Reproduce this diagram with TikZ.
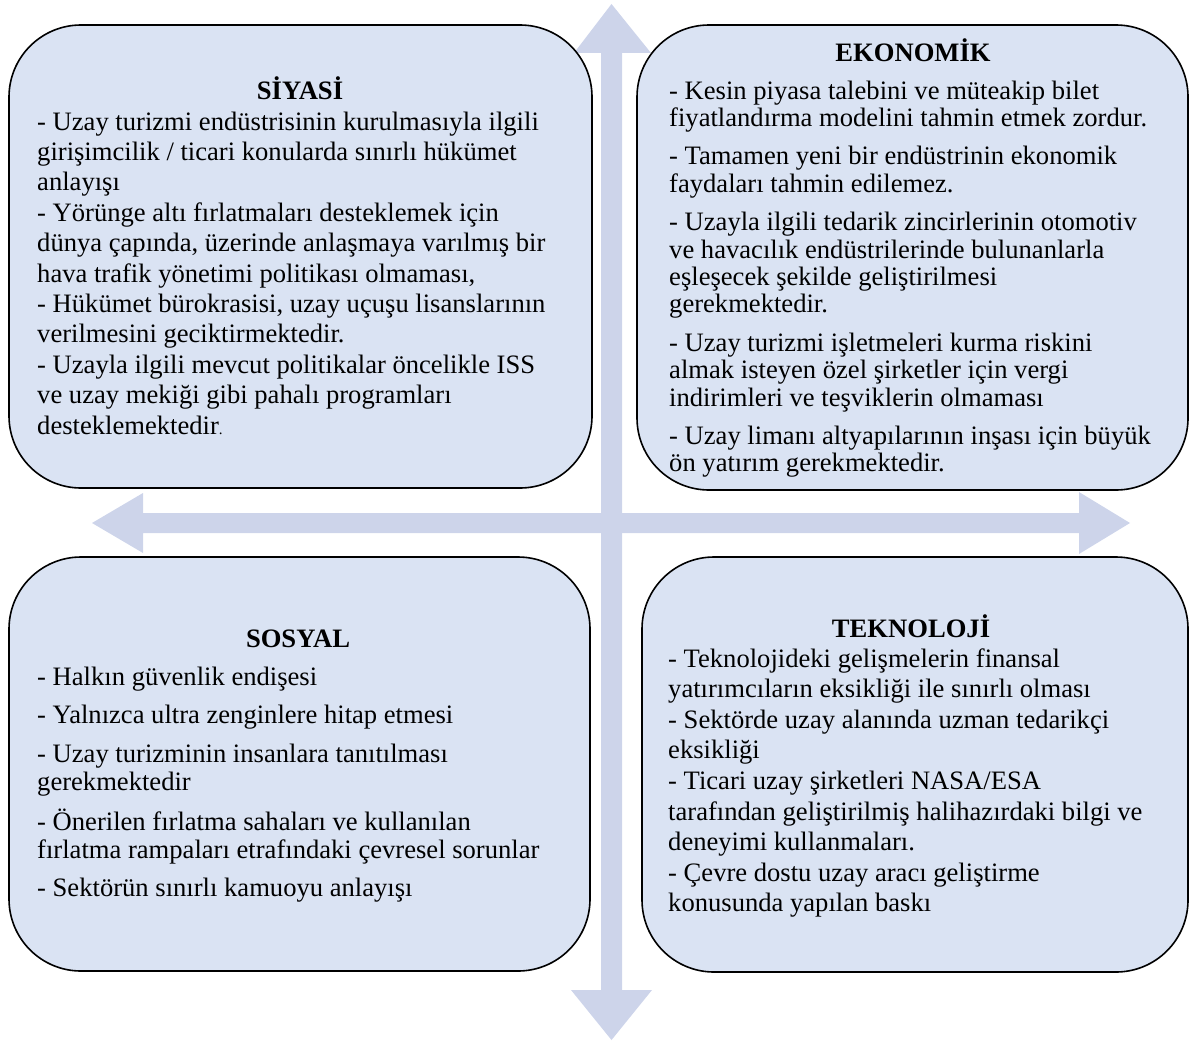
\documentclass[tikz,border=0pt]{standalone}
\usepackage{fontspec}
\setmainfont{Liberation Serif}[Ligatures={TeX,NoCommon}]
\definecolor{boxfill}{HTML}{DAE3F3}
\definecolor{axisfill}{HTML}{CDD4EA}

\begin{document}
\begin{tikzpicture}[x=1pt,y=-1pt,
  panel/.style={draw=black, line width=1.6pt, fill=boxfill,
    rounded corners=72pt, rectangle, inner sep=0pt},
  heading/.style={anchor=base, inner sep=0pt,
    font=\fontsize{26.6}{30}\selectfont\bfseries},
  bodytext/.style={anchor=base west, inner sep=0pt,
    font=\fontsize{26.6}{#1}\selectfont},
  axisshape/.style={fill=axisfill, draw=none}]

\useasboundingbox (0,0) rectangle (1190,1041);

% two crossing double-headed axes
\fill[axisshape] (601,53) -- (574,53) -- (611.5,4) -- (651,53) -- (622,53)
  -- (622,990) -- (652,990) -- (611.5,1040) -- (571,990) -- (601,990) -- cycle;
\fill[axisshape] (143,513) -- (143,493) -- (92,523) -- (143,553) -- (143,533)
  -- (1079,533) -- (1079,554) -- (1130,523) -- (1079,492) -- (1079,513) -- cycle;

% four panels
\node[panel, minimum width=583pt, minimum height=463pt] (siyasi)    at (300.5,256.5) {};
\node[panel, minimum width=551pt, minimum height=465pt] (ekonomik)  at (912.5,257.5) {};
\node[panel, minimum width=581pt, minimum height=414pt] (sosyal)    at (299.5,764) {};
\node[panel, minimum width=546pt, minimum height=415pt] (teknoloji) at (915,764.5) {};

% SİYASİ
\node[heading] (siyasiT) at (300,99) {SİYASİ};
\node[bodytext=30.4] (siyasiB) at (37,130) {\begin{tabular}[t]{@{}l@{}}
- Uzay turizmi endüstrisinin kurulmasıyla ilgili\\
girişimcilik / ticari konularda sınırlı hükümet\\
anlayışı\\
- Yörünge altı fırlatmaları desteklemek için\\
dünya çapında, üzerinde anlaşmaya varılmış bir\\
hava trafik yönetimi politikası olmaması,\\
- Hükümet bürokrasisi, uzay uçuşu lisanslarının\\
verilmesini geciktirmektedir.\\
- Uzayla ilgili mevcut politikalar öncelikle ISS\\
ve uzay mekiği gibi pahalı programları\\
desteklemektedir{\fontsize{15}{15}\selectfont .}
\end{tabular}};

% EKONOMİK
\node[heading] (ekonomikT) at (913,62) {EKONOMİK};
\node[bodytext=27.4] (ekonomikB) at (669,99) {\begin{tabular}[t]{@{}l@{}}
- Kesin piyasa talebini ve müteakip bilet\\
fiyatlandırma modelini tahmin etmek zordur.\\[11pt]
- Tamamen yeni bir endüstrinin ekonomik\\
faydaları tahmin edilemez.\\[11pt]
- Uzayla ilgili tedarik zincirlerinin otomotiv\\
ve havacılık endüstrilerinde bulunanlarla\\
eşleşecek şekilde geliştirilmesi\\
gerekmektedir.\\[11pt]
- Uzay turizmi işletmeleri kurma riskini\\
almak isteyen özel şirketler için vergi\\
indirimleri ve teşviklerin olmaması\\[11pt]
- Uzay limanı altyapılarının inşası için büyük\\
ön yatırım gerekmektedir.
\end{tabular}};

% SOSYAL
\node[heading] (sosyalT) at (298,647) {SOSYAL};
\node[bodytext=28] (sosyalB) at (37,685) {\begin{tabular}[t]{@{}l@{}}
- Halkın güvenlik endişesi\\[10.5pt]
- Yalnızca ultra zenginlere hitap etmesi\\[10.5pt]
- Uzay turizminin insanlara tanıtılması\\
gerekmektedir\\[10.5pt]
- Önerilen fırlatma sahaları ve kullanılan\\
fırlatma rampaları etrafındaki çevresel sorunlar\\[10.5pt]
- Sektörün sınırlı kamuoyu anlayışı
\end{tabular}};

% TEKNOLOJİ
\node[heading] (teknolojiT) at (911,637) {TEKNOLOJİ};
\node[bodytext=30.6] (teknolojiB) at (668,667) {\begin{tabular}[t]{@{}l@{}}
- Teknolojideki gelişmelerin finansal\\
yatırımcıların eksikliği ile sınırlı olması\\
- Sektörde uzay alanında uzman tedarikçi\\
eksikliği\\
- Ticari uzay şirketleri NASA/ESA\\
tarafından geliştirilmiş halihazırdaki bilgi ve\\
deneyimi kullanmaları.\\
- Çevre dostu uzay aracı geliştirme\\
konusunda yapılan baskı
\end{tabular}};

\end{tikzpicture}
\end{document}
